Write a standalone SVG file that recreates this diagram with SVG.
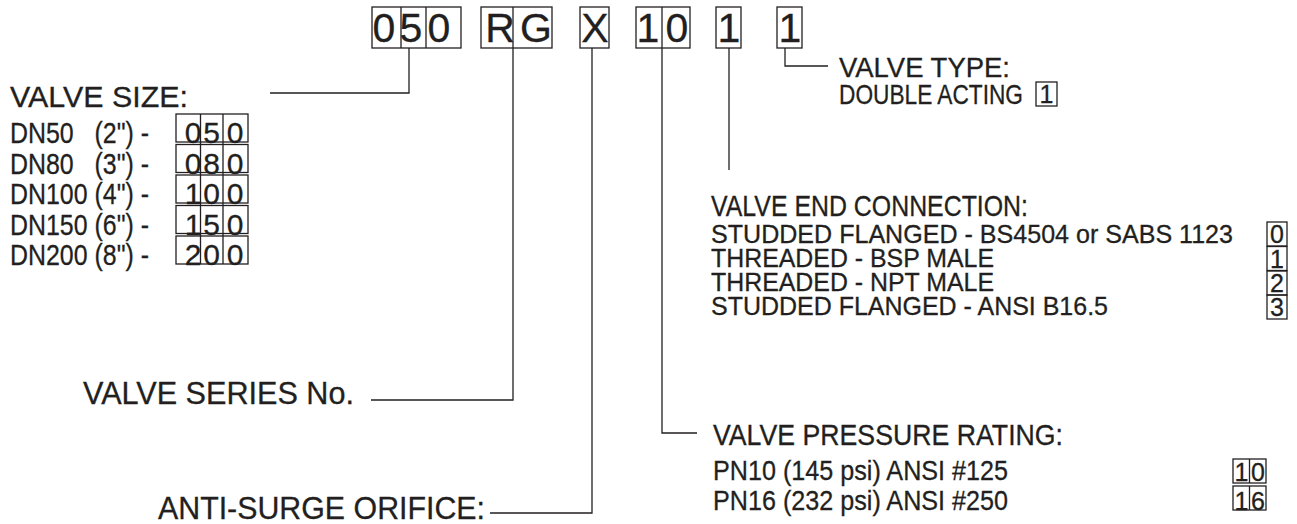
<svg xmlns="http://www.w3.org/2000/svg" width="1297" height="524" viewBox="0 0 1297 524">
<style>
text{font-family:"Liberation Sans Narrow","Liberation Sans",Arial,sans-serif;fill:#231f20;stroke:#231f20;stroke-width:0.3}
.w{font-family:"Liberation Sans",Arial,sans-serif}
.box,.ln{fill:none;stroke:#231f20;stroke-width:1.3}
.code{font-family:"Liberation Sans",Arial,sans-serif;font-size:41px;text-anchor:middle}
.d30{font-size:30px;text-anchor:middle}
.d25{font-size:25px;text-anchor:middle}
.t30{font-size:30px}
.t26{font-size:26px}
.t28{font-size:28px}
</style>
<rect width="1297" height="524" fill="#ffffff"/>
<g id="code">
<rect class="box" x="372" y="7" width="89" height="41"/>
<path class="ln" d="M401 7V48M426 7V48"/>
<text class="code" x="384" y="42">0</text>
<text class="code" x="411" y="42">5</text>
<text class="code" x="439" y="42">0</text>
<rect class="box" x="481" y="7" width="71" height="41"/>
<path class="ln" d="M513 7V48"/>
<text class="code" x="500" y="42">R</text>
<text class="code" x="536" y="42">G</text>
<rect class="box" x="580" y="7" width="29" height="41"/>
<text class="code" x="595" y="42">X</text>
<rect class="box" x="636" y="7" width="54" height="41"/>
<path class="ln" d="M662 7V48"/>
<text class="code" x="648" y="42">1</text>
<text class="code" x="677" y="42">0</text>
<rect class="box" x="716" y="7" width="25" height="41"/>
<text class="code" x="729" y="42">1</text>
<rect class="box" x="777" y="7" width="25" height="41"/>
<text class="code" x="790" y="42">1</text>
</g>
<g id="connectors" class="ln">
<polyline points="409,48 409,93 270,93"/>
<polyline points="513,48 513,400 371,400"/>
<polyline points="592,48 592,513 490,513"/>
<polyline points="662,48 662,433 697,433"/>
<polyline points="729,48 729,170"/>
<polyline points="785,48 785,66 828,66"/>
</g>
<g id="valve-size">
<text class="w" x="10" y="106.5" font-size="30" textLength="178" lengthAdjust="spacingAndGlyphs">VALVE SIZE:</text>
<text class="t30" x="10" y="143" xml:space="preserve" textLength="139" lengthAdjust="spacingAndGlyphs">DN50   (2") -</text>
<text class="t30" x="10" y="173.5" xml:space="preserve" textLength="139" lengthAdjust="spacingAndGlyphs">DN80   (3") -</text>
<text class="t30" x="10" y="204" xml:space="preserve" textLength="139" lengthAdjust="spacingAndGlyphs">DN100 (4") -</text>
<text class="t30" x="10" y="234.5" xml:space="preserve" textLength="139" lengthAdjust="spacingAndGlyphs">DN150 (6") -</text>
<text class="t30" x="10" y="265" xml:space="preserve" textLength="139" lengthAdjust="spacingAndGlyphs">DN200 (8") -</text>
<rect class="box" x="176" y="114" width="72" height="28"/>
<rect class="box" x="176" y="144.5" width="72" height="28"/>
<rect class="box" x="176" y="175" width="72" height="28"/>
<rect class="box" x="176" y="205.5" width="72" height="28"/>
<rect class="box" x="176" y="236" width="72" height="28"/>
<path class="ln" d="M200.5 114V264M223 114V264"/>
<text class="d30" x="193" y="143">0</text><text class="d30" x="211.5" y="143">5</text><text class="d30" x="235" y="143">0</text>
<text class="d30" x="193" y="173.5">0</text><text class="d30" x="211.5" y="173.5">8</text><text class="d30" x="235" y="173.5">0</text>
<text class="d30" x="193" y="204">1</text><text class="d30" x="211.5" y="204">0</text><text class="d30" x="235" y="204">0</text>
<text class="d30" x="193" y="234.5">1</text><text class="d30" x="211.5" y="234.5">5</text><text class="d30" x="235" y="234.5">0</text>
<text class="d30" x="193" y="265">2</text><text class="d30" x="211.5" y="265">0</text><text class="d30" x="235" y="265">0</text>
</g>
<g id="valve-series">
<text class="w" x="83" y="404" font-size="31" textLength="271" lengthAdjust="spacingAndGlyphs">VALVE SERIES No.</text>
</g>
<g id="anti-surge">
<text class="w" x="158" y="519" font-size="32" textLength="327" lengthAdjust="spacingAndGlyphs">ANTI-SURGE ORIFICE:</text>
</g>
<g id="valve-type">
<text class="w" x="839" y="76.5" font-size="27" textLength="171" lengthAdjust="spacingAndGlyphs">VALVE TYPE:</text>
<text class="t28" x="839" y="103.5" textLength="184" lengthAdjust="spacingAndGlyphs">DOUBLE ACTING</text>
<rect class="box" x="1036" y="82" width="21" height="24"/>
<text class="d25" x="1046.5" y="103">1</text>
</g>
<g id="end-connection">
<text class="w" x="711" y="216" font-size="29" textLength="317" lengthAdjust="spacingAndGlyphs">VALVE END CONNECTION:</text>
<text class="t26" x="711" y="243" textLength="522" lengthAdjust="spacingAndGlyphs">STUDDED FLANGED - BS4504 or SABS 1123</text>
<text class="t26" x="711" y="267" textLength="283" lengthAdjust="spacingAndGlyphs">THREADED - BSP MALE</text>
<text class="t26" x="711" y="291" textLength="283" lengthAdjust="spacingAndGlyphs">THREADED - NPT MALE</text>
<text class="t26" x="711" y="315" textLength="397" lengthAdjust="spacingAndGlyphs">STUDDED FLANGED - ANSI B16.5</text>
<rect class="box" x="1267" y="222" width="20" height="24"/>
<rect class="box" x="1267" y="246.5" width="20" height="24"/>
<rect class="box" x="1267" y="271" width="20" height="24"/>
<rect class="box" x="1267" y="295" width="20" height="24"/>
<text class="d25" x="1277" y="243">0</text>
<text class="d25" x="1277" y="267.5">1</text>
<text class="d25" x="1277" y="291.5">2</text>
<text class="d25" x="1277" y="315.5">3</text>
</g>
<g id="pressure-rating">
<text class="w" x="713" y="445" font-size="29" textLength="350" lengthAdjust="spacingAndGlyphs">VALVE PRESSURE RATING:</text>
<text class="t28" x="713" y="480" textLength="295" lengthAdjust="spacingAndGlyphs">PN10 (145 psi) ANSI #125</text>
<text class="t28" x="713" y="510" textLength="295" lengthAdjust="spacingAndGlyphs">PN16 (232 psi) ANSI #250</text>
<rect class="box" x="1233" y="459" width="33" height="24"/>
<rect class="box" x="1233" y="486" width="33" height="24"/>
<path class="ln" d="M1249.5 459V483M1249.5 486V510"/>
<text class="d25" x="1241.5" y="480.5">1</text><text class="d25" x="1258" y="480.5">0</text>
<text class="d25" x="1241.5" y="510">1</text><text class="d25" x="1258" y="510">6</text>
</g>
</svg>
